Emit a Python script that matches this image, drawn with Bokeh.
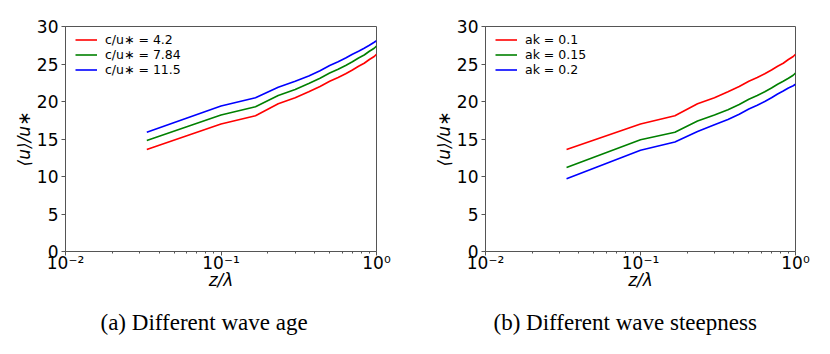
from bokeh.plotting import figure
from bokeh.layouts import row
from bokeh.models import FixedTicker, CustomJSTickFormatter, Title, Legend, LegendItem
from bokeh.embed import file_html
from bokeh.resources import INLINE

# z/lambda sample heights
z = [1/30, 3/30, 5/30, 7/30, 9/30, 11/30, 13/30, 15/30, 17/30, 19/30,
     21/30, 23/30, 25/30, 27/30, 29/30, 1.0]

# (a) different wave age
u_c42 = [13.6, 17.0, 18.1, 19.7, 20.5, 21.3, 22.0, 22.7, 23.2, 23.7, 24.2, 24.7, 25.1, 25.6, 26.0, 26.3]
u_c784 = [14.8, 18.2, 19.3, 20.8, 21.6, 22.4, 23.1, 23.8, 24.3, 24.8, 25.3, 25.8, 26.2, 26.7, 27.1, 27.4]
u_c115 = [15.9, 19.4, 20.5, 21.9, 22.7, 23.4, 24.1, 24.8, 25.3, 25.8, 26.3, 26.7, 27.1, 27.5, 27.9, 28.1]
labels_a = ["c/u∗ = 4.2", "c/u∗ = 7.84", "c/u∗ = 11.5"]

# (b) different wave steepness
u_ak01 = [13.6, 17.0, 18.1, 19.7, 20.5, 21.3, 22.0, 22.7, 23.2, 23.7, 24.2, 24.7, 25.1, 25.6, 26.0, 26.3]
u_ak015 = [11.2, 14.9, 15.9, 17.4, 18.2, 18.9, 19.6, 20.3, 20.8, 21.3, 21.8, 22.3, 22.7, 23.1, 23.5, 23.8]
u_ak02 = [9.7, 13.5, 14.6, 16.0, 16.9, 17.6, 18.3, 19.0, 19.5, 20.0, 20.5, 21.0, 21.4, 21.8, 22.1, 22.3]
labels_b = ["ak = 0.1", "ak = 0.15", "ak = 0.2"]

y_ticks = [0, 5, 10, 15, 20, 25, 30]
x_ticks = [0.01, 0.1, 1.0]
x_minor = [0.02, 0.03, 0.04, 0.05, 0.06, 0.07, 0.08, 0.09,
           0.2, 0.3, 0.4, 0.5, 0.6, 0.7, 0.8, 0.9]
colors = ["#ff0000", "#008000", "#0000ff"]

captions = ["(a) Different wave age", "(b) Different wave steepness"]

AX = "#555555"


def make_panel(series, labels, caption, border_left, border_right, width, cap_offset):
    p = figure(width=width, height=354, x_axis_type="log",
               x_range=(0.01, 1.0), y_range=(0, 30),
               output_backend="svg", toolbar_location=None,
               min_border_left=border_left, min_border_right=border_right,
               min_border_top=26, min_border_bottom=103)
    p.xgrid.visible = False
    p.ygrid.visible = False
    p.outline_line_color = AX
    p.outline_line_width = 1
    p.background_fill_color = "white"
    p.border_fill_color = "white"

    items = []
    for ys, lab, col in zip(series, labels, colors):
        r = p.line(z, ys, line_color=col, line_width=1.6)
        items.append(LegendItem(label=lab, renderers=[r]))
    leg = Legend(items=items, location=(10, 174))
    leg.border_line_color = None
    leg.background_fill_alpha = 0
    leg.margin = 0
    leg.padding = 0
    leg.spacing = 0
    leg.glyph_width = 22
    leg.glyph_height = 15
    leg.label_height = 15
    leg.label_standoff = 8
    leg.label_text_font = "DejaVu Sans"
    leg.label_text_font_size = "12.5px"
    leg.label_text_color = "black"
    p.add_layout(leg, "center")

    xa = p.xaxis[0]
    xa.ticker = FixedTicker(ticks=x_ticks, minor_ticks=x_minor)
    xa.formatter = CustomJSTickFormatter(code="""
        const e = Math.round(Math.log10(tick));
        const sup = {'-': '\u207b', '0': '\u2070', '1': '\u00b9', '2': '\u00b2', '3': '\u00b3'};
        return '10' + String(e).split('').map(c => sup[c]).join('');
    """)
    xa.axis_label = "z/λ"
    ya = p.yaxis[0]
    ya.ticker = FixedTicker(ticks=y_ticks)
    ya.axis_label = "⟨u⟩/u∗"
    for ax in (xa, ya):
        ax.axis_line_color = AX
        ax.major_tick_line_color = AX
        ax.minor_tick_line_color = AX
        ax.major_tick_in = 0
        ax.major_tick_out = 4
        ax.minor_tick_in = 0
        ax.minor_tick_out = 2
        ax.major_label_text_font = "DejaVu Sans"
        ax.major_label_text_font_size = "17px"
        ax.major_label_text_color = "black"
        ax.axis_label_text_font = "DejaVu Sans"
        ax.axis_label_text_font_size = "17px"
        ax.axis_label_text_font_style = "italic"
        ax.axis_label_text_color = "black"
    xa.major_label_standoff = -3
    xa.axis_label_standoff = -6
    ya.major_label_standoff = 3
    ya.axis_label_standoff = 0

    cap = Title(text=caption, align="left", offset=cap_offset,
                text_font="Liberation Serif",
                text_font_size="23px", text_font_style="normal", text_color="black",
                standoff=31)
    p.add_layout(cap, "below")
    return p


left = make_panel([u_c42, u_c784, u_c115], labels_a, captions[0], 65, 39, 415, 35)
right = make_panel([u_ak01, u_ak015, u_ak02], labels_b, captions[1], 70, 35, 415, 8)

layout = row(left, right)
open("out.html", "w").write(file_html(layout, INLINE))
